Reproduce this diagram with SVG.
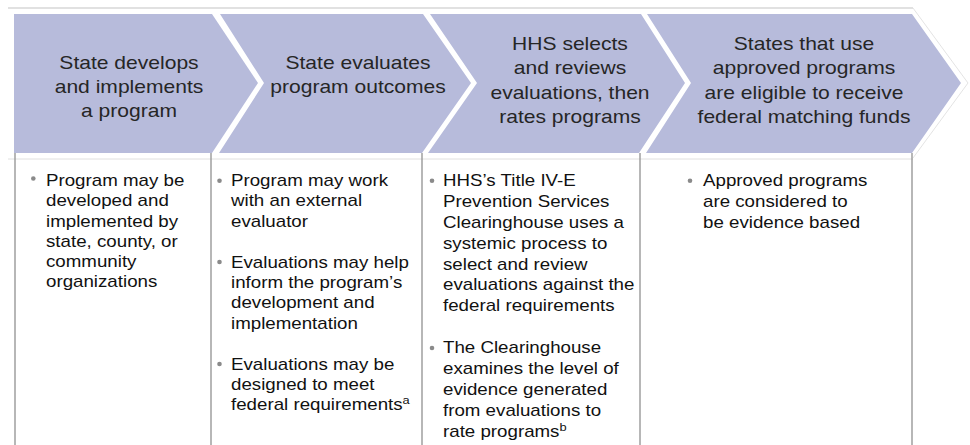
<svg xmlns="http://www.w3.org/2000/svg" width="970" height="445" viewBox="0 0 970 445">
<style>
.chev{fill:#b7bbdb;}
.ht{font-family:"Liberation Sans",Arial,sans-serif;font-size:18px;fill:#262626;text-anchor:middle;}
.bt{font-family:"Liberation Sans",Arial,sans-serif;font-size:16px;fill:#111;}
.sup{font-size:11px;}
.bul{fill:#8a8a8a;}
.col{stroke:#999;stroke-width:1.4;fill:none;}
</style>
<rect width="970" height="445" fill="#fff"/>
<g id="frame">
<line x1="8" y1="8" x2="913" y2="8" stroke="#c4c4c4" stroke-width="1.2"/>
<polyline points="913,8 968,83 913,158" fill="none" stroke="#dcdcdc" stroke-width="0.8"/>
<line x1="8" y1="159" x2="913" y2="159" stroke="#e0e0e0" stroke-width="1"/>
</g>
<g id="step1">
<polygon class="chev" points="14,14 212,14 258,83 212,153 14,153"/>
<text class="ht" transform="translate(129,69) scale(1.17,1)"><tspan x="0">State develops</tspan><tspan x="0" dy="24">and implements</tspan><tspan x="0" dy="24">a program</tspan></text>
</g>
<g id="step2">
<polygon class="chev" points="220,14 423,14 471,83 422,153 219,153 264,83"/>
<text class="ht" transform="translate(358,69) scale(1.17,1)"><tspan x="0">State evaluates</tspan><tspan x="0" dy="24">program outcomes</tspan></text>
</g>
<g id="step3">
<polygon class="chev" points="430,14 641,14 685,83 639,153 428,153 477,83"/>
<text class="ht" transform="translate(570,50) scale(1.17,1)"><tspan x="0">HHS selects</tspan><tspan x="0" dy="24.3">and reviews</tspan><tspan x="0" dy="24.3">evaluations, then</tspan><tspan x="0" dy="24.3">rates programs</tspan></text>
</g>
<g id="step4">
<polygon class="chev" points="647,14 912,14 961,83 912,153 646,153 691,83"/>
<text class="ht" transform="translate(804,50) scale(1.17,1)"><tspan x="0">States that use</tspan><tspan x="0" dy="24.3">approved programs</tspan><tspan x="0" dy="24.3">are eligible to receive</tspan><tspan x="0" dy="24.3">federal matching funds</tspan></text>
</g>
<g id="columns">
<line class="col" x1="15" y1="153" x2="15" y2="445"/>
<line class="col" x1="211" y1="153" x2="211" y2="445"/>
<line class="col" x1="422" y1="153" x2="422" y2="445"/>
<line class="col" x1="640" y1="153" x2="640" y2="445"/>
<line class="col" x1="912" y1="153" x2="912" y2="445"/>
</g>
<g id="detail1">
<circle class="bul" cx="33.3" cy="178.5" r="2.3"/>
<text class="bt" transform="translate(46,186) scale(1.17,1)"><tspan x="0">Program may be</tspan><tspan x="0" dy="20.3">developed and</tspan><tspan x="0" dy="20.3">implemented by</tspan><tspan x="0" dy="20.3">state, county, or</tspan><tspan x="0" dy="20.3">community</tspan><tspan x="0" dy="20.3">organizations</tspan></text>
</g>
<g id="detail2">
<circle class="bul" cx="219.5" cy="180.7" r="2.3"/>
<circle class="bul" cx="219.5" cy="262" r="2.3"/>
<circle class="bul" cx="219.5" cy="364" r="2.3"/>
<text class="bt" transform="translate(231,186) scale(1.17,1)"><tspan x="0">Program may work</tspan><tspan x="0" dy="20.4">with an external</tspan><tspan x="0" dy="20.4">evaluator</tspan><tspan x="0" dy="40.8">Evaluations may help</tspan><tspan x="0" dy="20.4">inform the program’s</tspan><tspan x="0" dy="20.4">development and</tspan><tspan x="0" dy="20.4">implementation</tspan><tspan x="0" dy="40.8">Evaluations may be</tspan><tspan x="0" dy="20.4">designed to meet</tspan><tspan x="0" dy="20.4">federal requirements</tspan><tspan class="sup" dy="-6">a</tspan></text>
</g>
<g id="detail3">
<circle class="bul" cx="432" cy="180.7" r="2.3"/>
<circle class="bul" cx="432" cy="348" r="2.3"/>
<text class="bt" transform="translate(443,186) scale(1.17,1)"><tspan x="0">HHS’s Title IV-E</tspan><tspan x="0" dy="20.9">Prevention Services</tspan><tspan x="0" dy="20.9">Clearinghouse uses a</tspan><tspan x="0" dy="20.9">systemic process to</tspan><tspan x="0" dy="20.9">select and review</tspan><tspan x="0" dy="20.9">evaluations against the</tspan><tspan x="0" dy="20.9">federal requirements</tspan><tspan x="0" dy="41.8">The Clearinghouse</tspan><tspan x="0" dy="20.9">examines the level of</tspan><tspan x="0" dy="20.9">evidence generated</tspan><tspan x="0" dy="20.9">from evaluations to</tspan><tspan x="0" dy="20.9">rate programs</tspan><tspan class="sup" dy="-6">b</tspan></text>
</g>
<g id="detail4">
<circle class="bul" cx="690" cy="180.7" r="2.3"/>
<text class="bt" transform="translate(703,186) scale(1.17,1)"><tspan x="0">Approved programs</tspan><tspan x="0" dy="20.8">are considered to</tspan><tspan x="0" dy="20.8">be evidence based</tspan></text>
</g>
</svg>
